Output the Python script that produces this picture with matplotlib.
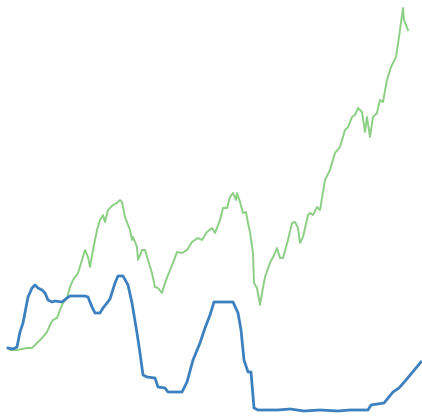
import matplotlib
matplotlib.use("Agg")
import matplotlib.pyplot as plt

# Green series: (time, value)
green_t = [10, 17, 27, 32, 37, 42, 47, 50, 53, 57, 60, 63, 67, 70, 73, 78, 82, 85, 88, 90,
           93, 97, 100, 103, 105, 108, 113, 117, 120, 122, 125, 130, 132, 133, 137, 138, 142,
           145, 148, 152, 155, 158, 162, 165, 168, 173, 177, 182, 187, 192, 198, 202, 207,
           212, 215, 220, 223, 227, 230, 233, 236, 237, 240, 243, 246, 248, 250, 253, 254,
           257, 260, 262, 265, 270, 275, 277, 280, 283, 288, 292, 295, 298, 300, 303, 308,
           310, 313, 317, 320, 325, 330, 335, 340, 345, 348, 352, 355, 358, 362, 365, 367,
           370, 373, 377, 380, 383, 387, 391, 396, 399, 403, 404, 408]
green_v = [67, 67, 69, 69, 74, 79, 85, 92, 97, 99, 107, 114, 119, 130, 137, 144, 157, 167,
           160, 150, 167, 187, 197, 202, 195, 207, 212, 214, 217, 215, 200, 187, 177, 180,
           170, 157, 167, 167, 157, 144, 130, 129, 124, 134, 142, 154, 165, 164, 167, 175,
           179, 177, 185, 189, 184, 197, 209, 209, 220, 224, 217, 224, 215, 204, 205, 194,
           185, 164, 134, 129, 112, 124, 140, 154, 164, 169, 159, 159, 177, 194, 195, 189,
           174, 180, 202, 204, 202, 210, 207, 237, 247, 264, 270, 287, 290, 300, 302, 309,
           305, 285, 300, 280, 300, 304, 317, 315, 337, 350, 360, 380, 409, 397, 387]

# Blue series: (time, value)
blue_t = [8, 13, 17, 20, 23, 28, 32, 35, 38, 42, 45, 48, 52, 55, 62, 67, 70, 85, 88, 92, 95,
          100, 103, 107, 110, 115, 118, 123, 128, 132, 137, 140, 143, 147, 155, 158, 165, 168,
          182, 187, 193, 200, 205, 210, 214, 233, 238, 241, 244, 248, 251, 254, 258, 278, 290,
          304, 320, 338, 350, 368, 371, 384, 393, 399, 406, 421]
blue_v = [69, 68, 70, 85, 94, 120, 129, 132, 129, 127, 124, 117, 115, 116, 115, 119, 121, 121,
          120, 110, 104, 104, 109, 114, 118, 134, 141, 141, 132, 114, 84, 64, 42, 40, 39, 30,
          29, 25, 25, 35, 57, 74, 89, 102, 115, 115, 104, 87, 57, 45, 45, 9, 7, 7, 8, 6, 7, 6,
          7, 7, 12, 14, 25, 29, 37, 55]

fig = plt.figure(figsize=(4.22, 4.17), dpi=100)
ax = fig.add_axes([0, 0, 1, 1])
ax.plot(green_t, green_v, color="#8ccf84", linewidth=1.4, solid_joinstyle="round")
ax.plot(blue_t, blue_v, color="#3d80c0", linewidth=2.0, solid_joinstyle="round")
ax.set_xlim(0, 422)
ax.set_ylim(0, 417)
ax.axis("off")
fig.savefig("out.png", dpi=100)
